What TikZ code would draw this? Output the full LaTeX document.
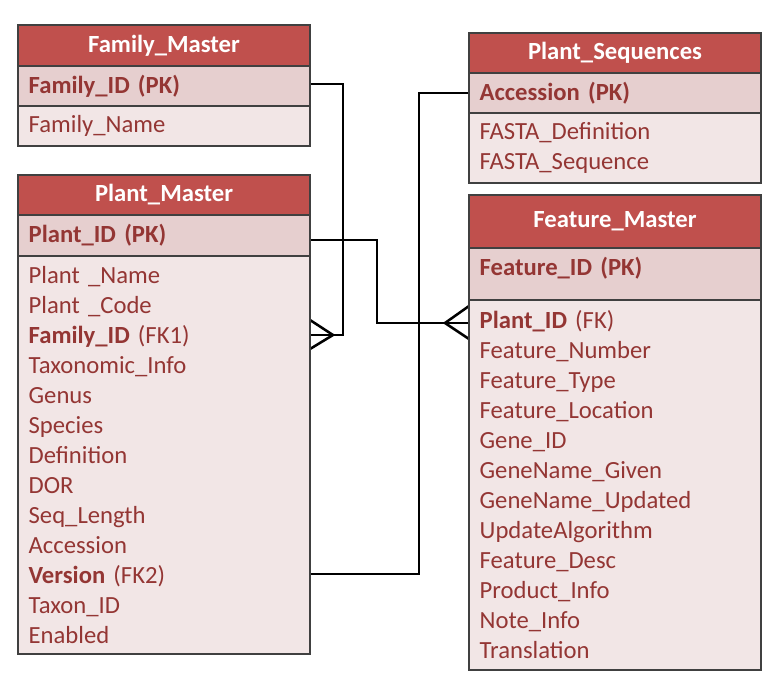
\documentclass[tikz,border=0pt]{standalone}
\usepackage{fontspec}
\setmainfont{Carlito}
\usetikzlibrary{positioning}
\definecolor{hdr}{HTML}{C0504D}
\definecolor{keyrow}{HTML}{E6CFCF}
\definecolor{attrow}{HTML}{F2E6E6}
\definecolor{ink}{HTML}{943634}
\definecolor{edge}{HTML}{404040}
\tikzset{
  cell/.style={draw=edge, line width=1.1pt, outer sep=0pt, anchor=north west,
               minimum width=219pt, text width=203pt, inner xsep=8pt, inner ysep=0pt,
               align=left, text=ink, font=\fontsize{18.5}{22.5}\selectfont},
  head/.style={cell, fill=hdr, text=white, align=center,
               font=\fontsize{18.5}{22.5}\selectfont\bfseries},
  pk/.style={cell, fill=keyrow, font=\fontsize{18.5}{22.5}\selectfont\bfseries},
  attr/.style={cell, fill=attrow},
  link/.style={line width=1.9pt, black, line join=miter}
}

\begin{document}
\begin{tikzpicture}[x=0.75pt, y=-0.75pt]
  \useasboundingbox (0,0) rectangle (778,679);

  % connectors first, tables drawn on top
  \coordinate (fk1) at (310,335);
  \coordinate (fk2) at (310,574);
  \coordinate (fkf) at (469,323);
  \coordinate (famout) at (310,84);
  \coordinate (plmout) at (310,240);

  \draw[link] (famout) -- (343,84) |- (fk1);
  \draw[link] (fk1) ++(0,-15) -- ++(23,15) -- ++(-23,14);
  \draw[link] (plmout) -- (377,240) |- (fkf);
  \draw[link] (fkf) ++(0,-17) -- ++(-24,17) -- ++(24,16);
  \draw[link] (469,93) -- (419,93) |- (fk2);

  % Family_Master
  \node[head, minimum height=30.75pt] (fam-head) at (18,25) {Family\_Master};
  \node[pk, minimum height=30pt, below=0pt of fam-head] (fam-pk) {Family\_ID (PK)};
  \node[attr, minimum height=30pt, below=0pt of fam-pk] (fam-attr) {Family\_Name};

  % Plant_Sequences
  \node[head, minimum height=30pt] (seq-head) at (469,33) {Plant\_Sequences};
  \node[pk, minimum height=30pt, below=0pt of seq-head] (seq-pk) {Accession (PK)};
  \node[attr, minimum height=52.5pt, below=0pt of seq-pk] (seq-attr) {FASTA\_Definition\\FASTA\_Sequence};

  % Plant_Master
  \node[head, minimum height=30pt] (plm-head) at (18,175) {Plant\_Master};
  \node[pk, minimum height=30.75pt, below=0pt of plm-head] (plm-pk) {Plant\_ID (PK)};
  \node[attr, minimum height=298.5pt, below=0pt of plm-pk] (plm-attr) {Plant \_Name\\Plant \_Code\\\textbf{Family\_ID} (FK1)\\Taxonomic\_Info\\Genus\\Species\\Definition\\DOR\\Seq\_Length\\Accession\\\textbf{Version} (FK2)\\Taxon\_ID\\Enabled};

  % Feature_Master
  \node[head, minimum height=39.75pt] (fm-head) at (469,195) {Feature\_Master};
  \node[pk, minimum height=39pt, text depth=12pt, below=0pt of fm-head] (fm-pk) {Feature\_ID (PK)};
  \node[attr, minimum height=277.5pt, below=0pt of fm-pk] (fm-attr) {\textbf{Plant\_ID} (FK)\\Feature\_Number\\Feature\_Type\\Feature\_Location\\Gene\_ID\\GeneName\_Given\\GeneName\_Updated\\UpdateAlgorithm\\Feature\_Desc\\Product\_Info\\Note\_Info\\Translation};
\end{tikzpicture}
\end{document}
